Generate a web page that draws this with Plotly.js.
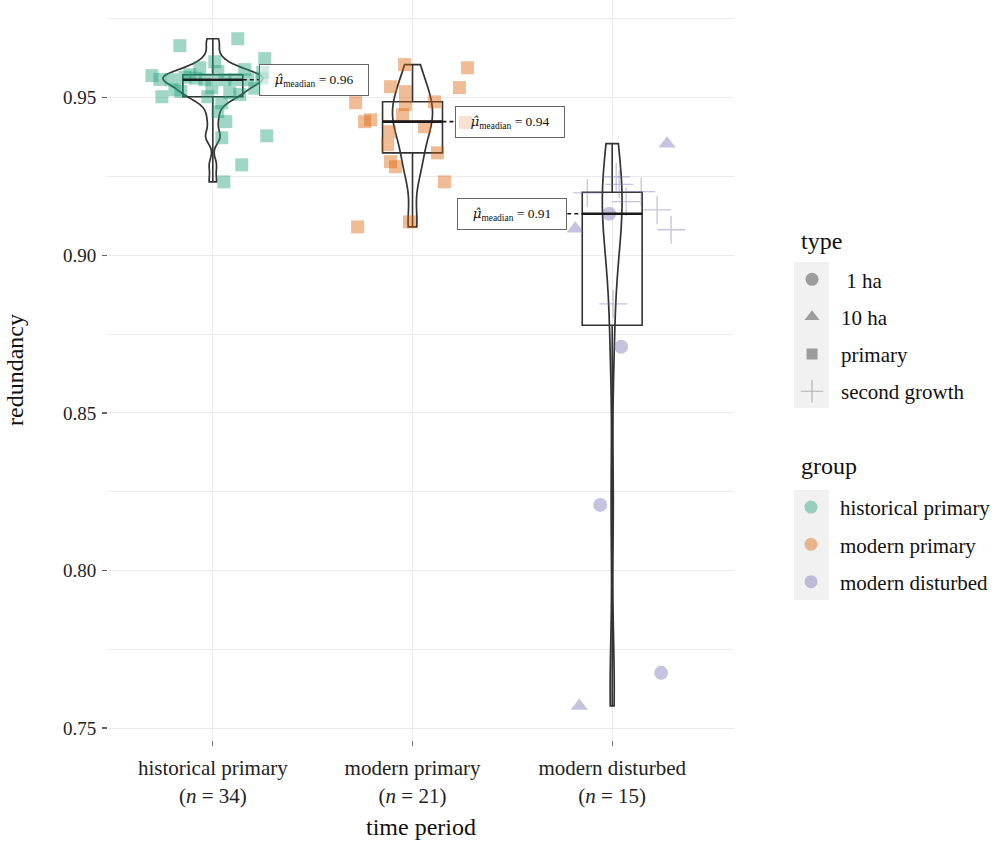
<!DOCTYPE html>
<html><head><meta charset="utf-8">
<script src="https://cdn.plot.ly/plotly-3.0.1.min.js"></script>
<style>html,body{margin:0;padding:0;background:#fff}</style>
</head><body><div id="chart" style="width:996px;height:841px"></div>
<script>
// ---- data ----
const categories = ['historical primary', 'modern primary', 'modern disturbed'];
const histY = [0.9665,0.9687,0.9624,0.958,0.9562,0.953,0.957,0.9558,0.9503,0.952,0.9562,0.9614,0.9583,0.9557,0.9557,0.9558,0.9557,0.9503,0.9484,0.9456,0.9424,0.9373,0.9379,0.9287,0.9233,0.9557,0.9573,0.9516,0.9595,0.9589,0.9525,0.9532,0.951,0.9565];
const histJitter = [-0.165,0.125,0.26,0.25,0.245,0.21,-0.305,-0.265,-0.255,-0.16,-0.085,0.01,0.025,-0.04,0.06,0.11,0.175,-0.025,0.045,0.025,0.065,0.045,0.27,0.145,0.055,-0.205,-0.115,0.085,-0.065,0.16,-0.19,-0.005,0.135,-0.14];
const modPrimY = [0.9605,0.9595,0.9535,0.9519,0.9532,0.9484,0.9478,0.9487,0.9424,0.943,0.9421,0.9408,0.9392,0.9351,0.9297,0.9281,0.9325,0.9233,0.9106,0.909,0.9446];
const modPrimJitter = [-0.04,0.275,-0.11,-0.035,0.235,-0.285,-0.035,0.11,-0.24,-0.21,0.265,0.06,-0.115,-0.125,-0.11,-0.085,0.125,0.16,-0.015,-0.275,-0.05];
const distCircleY = [0.9132,0.871,0.8208,0.7675];
const distCircleJitter = [-0.015,0.045,-0.06,0.245];
const distTriY = [0.9354,0.9084,0.757];
const distTriJitter = [0.275,-0.185,-0.165];
const distCrossY = [0.9249,0.9225,0.9202,0.9198,0.917,0.9144,0.9081,0.8846];
const distCrossJitter = [0.02,0.035,0.145,-0.125,0.07,0.225,0.295,0.005];
const typeNames = ['\u00a01 ha', '10 ha', 'primary', 'second growth'];
const yTickVals = [0.75, 0.80, 0.85, 0.90, 0.95];

// ---- styles ----
const groupColors = ['rgba(27,158,119,0.42)', 'rgba(217,95,2,0.42)', 'rgba(117,112,179,0.42)'];
const typeSymbols = ['circle', 'triangle-up', 'square', 'cross-thin-open'];
const outline = '#333333';
const labelDx = [0.505, 0.49, -0.5];   // label centre offset from category (x units)
const labelHalf = 0.275;                 // half label width in x units
const FONT = 'Liberation Serif, Times New Roman, serif';

// ---- helpers ----
function quantile(a, p) {
  const s = a.slice().sort((u, v) => u - v);
  const h = (s.length - 1) * p, lo = Math.floor(h);
  return s[lo] + (h - lo) * ((s[lo + 1] !== undefined ? s[lo + 1] : s[lo]) - s[lo]);
}
function nrd0(a) {
  const n = a.length, m = a.reduce((s, v) => s + v, 0) / n;
  const sd = Math.sqrt(a.reduce((s, v) => s + (v - m) * (v - m), 0) / (n - 1));
  const iqr = quantile(a, 0.75) - quantile(a, 0.25);
  return 0.9 * Math.min(sd, iqr / 1.34) * Math.pow(n, -0.2);
}
function kdeMax(a, bw) {
  const lo = Math.min(...a), hi = Math.max(...a);
  let mx = 0;
  for (let k = 0; k <= 500; k++) {
    const x = lo + (hi - lo) * k / 500;
    let s = 0;
    for (const v of a) { const z = (x - v) / bw; s += Math.exp(-0.5 * z * z); }
    mx = Math.max(mx, s / (a.length * bw * Math.sqrt(2 * Math.PI)));
  }
  return mx;
}

const groups = [histY, modPrimY, distCircleY.concat(distTriY, distCrossY)];
const bws = groups.map(nrd0);
const peaks = groups.map((g, i) => kdeMax(g, bws[i]));
const peakMax = Math.max(...peaks);
const traces = [];

groups.forEach((vals, i) => {
  traces.push({
    type: 'violin', x: vals.map(() => i), y: vals, width: 0.5 * peaks[i] / peakMax,
    scalegroup: 'v' + i, scalemode: 'width', spanmode: 'hard', bandwidth: bws[i],
    points: false, box: {visible: false}, meanline: {visible: false},
    fillcolor: 'rgba(0,0,0,0)', line: {color: outline, width: 1.7},
    showlegend: false, hoverinfo: 'skip'
  });
  traces.push({
    type: 'box', x: vals.map(() => i), y: vals, width: 0.3, boxpoints: false,
    whiskerwidth: 0, quartilemethod: 'inclusive',
    fillcolor: 'rgba(0,0,0,0)', line: {color: outline, width: 1.6},
    showlegend: false, hoverinfo: 'skip'
  });
});

function pts(yv, jit, cat, sym, color, size) {
  const isCross = sym === 'cross-thin-open';
  return {
    type: 'scatter', mode: 'markers', x: jit.map(j => cat + j), y: yv,
    marker: isCross ? {symbol: sym, size: size, color: color, line: {color: color, width: 1.3}}
                    : {symbol: sym, size: size, color: color, line: {width: 0}},
    showlegend: false, hoverinfo: 'skip'
  };
}
traces.push(pts(histY, histJitter, 0, 'square', groupColors[0], 13));
traces.push(pts(modPrimY, modPrimJitter, 1, 'square', groupColors[1], 13));
traces.push(pts(distCircleY, distCircleJitter, 2, 'circle', groupColors[2], 14));
traces.push(pts(distTriY, distTriJitter, 2, 'triangle-up', groupColors[2], 15));
traces.push(pts(distCrossY, distCrossJitter, 2, 'cross-thin-open', groupColors[2], 20));

const annotations = [];
groups.forEach((vals, i) => {
  const med = quantile(vals, 0.5);
  traces.push({type: 'scatter', mode: 'lines', x: [i - 0.15, i + 0.15], y: [med, med],
    line: {color: '#1a1a1a', width: 2.6}, showlegend: false, hoverinfo: 'skip'});
  const right = labelDx[i] > 0;
  const x0 = right ? i + 0.15 : i + labelDx[i] + labelHalf;
  const x1 = right ? i + labelDx[i] - labelHalf : i - 0.15;
  traces.push({type: 'scatter', mode: 'lines', x: [x0, x1], y: [med, med],
    line: {color: '#1a1a1a', width: 1.6, dash: '4px,3px'}, showlegend: false, hoverinfo: 'skip'});
  annotations.push({
    x: i + labelDx[i], y: med, xref: 'x', yref: 'y', showarrow: false,
    text: '<span style="font-family:DejaVu Serif"><i>\u03bc\u0302</i></span><sub>meadian</sub> = ' + med.toFixed(2),
    font: {family: FONT, size: 13.5, color: '#111'},
    width: 98, height: 20, borderpad: 5, borderwidth: 1, bordercolor: '#666',
    bgcolor: 'rgba(255,255,255,0.55)'
  });
});

// legend titles
annotations.push({xref: 'paper', yref: 'paper', x: 1.1037, y: 0.6743, xanchor: 'left', yanchor: 'middle',
  showarrow: false, text: 'type', font: {family: FONT, size: 24, color: '#111'}});
annotations.push({xref: 'paper', yref: 'paper', x: 1.1037, y: 0.3703, xanchor: 'left', yanchor: 'middle',
  showarrow: false, text: 'group', font: {family: FONT, size: 24, color: '#111'}});

// legend entries
typeNames.forEach((nm, k) => {
  traces.push({type: 'scatter', mode: 'markers', x: [null], y: [null], name: nm,
    legend: 'legend', legendgroup: 't' + k,
    marker: typeSymbols[k] === 'cross-thin-open'
      ? {symbol: typeSymbols[k], size: 16, color: '#b5b5b5', line: {color: '#b5b5b5', width: 1.2}}
      : {symbol: typeSymbols[k], size: k === 2 ? 11 : 13, color: '#9c9c9c'},
    hoverinfo: 'skip'});
});
categories.forEach((nm, k) => {
  traces.push({type: 'scatter', mode: 'markers', x: [null], y: [null], name: nm,
    legend: 'legend2', legendgroup: 'g' + k,
    marker: {symbol: 'circle', size: 13, color: groupColors[k]}, hoverinfo: 'skip'});
});

const tickText = categories.map((c, i) => c + '<br>(<i>n</i> = ' + groups[i].length + ')');

const legendCommon = {
  xanchor: 'left', yanchor: 'top', font: {size: 21, color: '#111'},
  traceorder: 'grouped', tracegroupgap: 7, itemwidth: 48,
  bgcolor: 'rgba(0,0,0,0)', itemclick: false, itemdoubleclick: false
};

const layout = {
  width: 996, height: 841,
  margin: {l: 108, r: 261, t: 0, b: 101},
  paper_bgcolor: '#fff', plot_bgcolor: '#fff',
  font: {family: FONT, color: '#1a1a1a', size: 17},
  boxmode: 'overlay', violinmode: 'overlay', hovermode: false,
  xaxis: {
    range: [-0.525, 2.61], tickmode: 'array', tickvals: [0, 1, 2], ticktext: tickText,
    showgrid: true, gridcolor: '#ebebeb', gridwidth: 1, zeroline: false, showline: false,
    ticks: 'outside', ticklen: 5, tickcolor: '#777', tickwidth: 1, ticklabelstandoff: 4,
    tickfont: {size: 21, color: '#222'},
    title: {text: 'time period', font: {size: 24, color: '#111'}, standoff: 11}
  },
  yaxis: {
    range: [0.7462, 0.981], tickmode: 'array', tickvals: yTickVals, tickformat: '.2f',
    showgrid: true, gridcolor: '#ebebeb', gridwidth: 1, zeroline: false, showline: false,
    ticks: 'outside', ticklen: 5, tickcolor: '#666', tickwidth: 1.5, ticklabelstandoff: 2,
    tickfont: {size: 19, color: '#222'},
    minor: {tickmode: 'linear', tick0: 0.75, dtick: 0.025, showgrid: true, gridcolor: '#ebebeb', gridwidth: 1, ticks: ''},
    title: {text: 'redundancy', font: {size: 24, color: '#111'}, standoff: 32}
  },
  legend: Object.assign({x: 1.0766, y: 0.6497}, legendCommon),
  legend2: Object.assign({x: 1.0766, y: 0.342}, legendCommon),
  shapes: [
    {type: 'rect', xref: 'paper', yref: 'paper', x0: 1.0957, x1: 1.1515, y0: 0.4486, y1: 0.646, fillcolor: '#f1f1f1', line: {width: 0}, layer: 'below'},
    {type: 'rect', xref: 'paper', yref: 'paper', x0: 1.0957, x1: 1.1515, y0: 0.1892, y1: 0.3378, fillcolor: '#f1f1f1', line: {width: 0}, layer: 'below'}
  ],
  annotations: annotations
};

Plotly.newPlot('chart', traces, layout, {displayModeBar: false, staticPlot: true});
</script>
</body></html>
